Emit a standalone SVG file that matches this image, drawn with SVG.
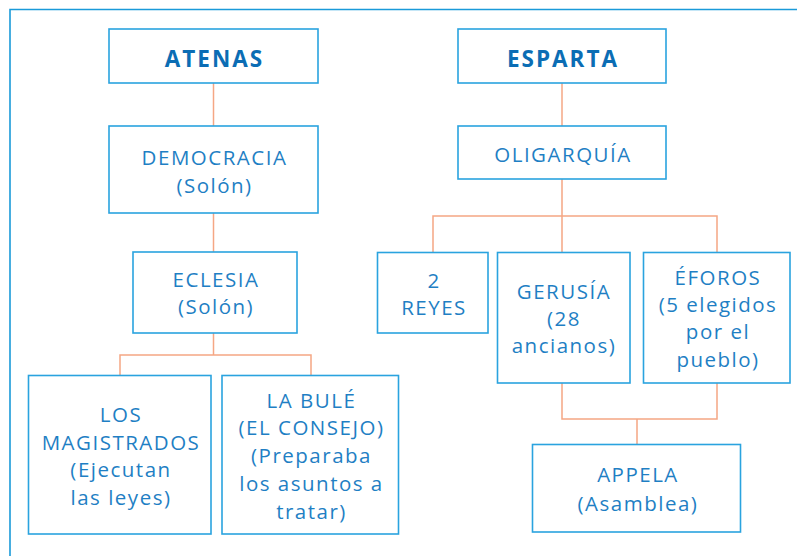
<svg xmlns="http://www.w3.org/2000/svg" width="797" height="556" viewBox="0 0 797 556">
<style>
.box{fill:#fff;stroke:#2aa3df;stroke-width:1.6}
.t{font-family:"Open Sans","DejaVu Sans",sans-serif;font-size:20.5px;fill:#1f7fc4;text-anchor:middle;letter-spacing:1.5px}
.b{font-family:"Open Sans","DejaVu Sans",sans-serif;font-size:22.5px;font-weight:bold;fill:#0b6db4;text-anchor:middle;letter-spacing:2px}
.c{fill:none;stroke:#f5a784;stroke-width:1.5}
</style>
<rect width="797" height="556" fill="#fff"/>
<path d="M10,556 V9.5 H797" fill="none" stroke="#1a9ad9" stroke-width="1.6"/>
<g id="connectors" class="c">
<path d="M213.5,83 V126"/>
<path d="M213.5,213 V252"/>
<path d="M213.5,333 V355 M120,375 V355 H311 V375"/>
<path d="M562,83 V126"/>
<path d="M562,179 V252 M433,252 V216 H717 V252"/>
<path d="M562,383 V419 H717 V383 M637,419 V444"/>
</g>
<g id="atenas"><rect class="box" x="109" y="29" width="209" height="54"/><text class="b" x="214.5" y="67">ATENAS</text></g>
<g id="democracia"><rect class="box" x="109" y="126" width="209" height="87"/><text class="t" x="214.5" y="165">DEMOCRACIA</text><text class="t" x="214.5" y="193">(Solón)</text></g>
<g id="eclesia"><rect class="box" x="133" y="252" width="164" height="81"/><text class="t" x="216" y="287">ECLESIA</text><text class="t" x="216" y="314">(Solón)</text></g>
<g id="magistrados"><rect class="box" x="28.5" y="375.5" width="182.5" height="158.5"/><text class="t" x="121" y="422">LOS</text><text class="t" x="121" y="450">MAGISTRADOS</text><text class="t" x="121" y="477">(Ejecutan</text><text class="t" x="121" y="505">las leyes)</text></g>
<g id="bule"><rect class="box" x="222" y="375.5" width="176.5" height="158.5"/><text class="t" x="311.5" y="408">LA BULÉ</text><text class="t" x="311.5" y="435">(EL CONSEJO)</text><text class="t" x="311.5" y="463">(Preparaba</text><text class="t" x="311.5" y="491">los asuntos a</text><text class="t" x="311.5" y="519">tratar)</text></g>
<g id="esparta"><rect class="box" x="458" y="29" width="208" height="54"/><text class="b" x="563" y="67">ESPARTA</text></g>
<g id="oligarquia"><rect class="box" x="458" y="126" width="208" height="53"/><text class="t" x="563" y="162">OLIGARQUÍA</text></g>
<g id="reyes"><rect class="box" x="377.5" y="252.5" width="110.5" height="80.5"/><text class="t" x="434" y="288">2</text><text class="t" x="434" y="315">REYES</text></g>
<g id="gerusia"><rect class="box" x="497.5" y="252.5" width="132.5" height="130.5"/><text class="t" x="564" y="299">GERUSÍA</text><text class="t" x="564" y="326">(28</text><text class="t" x="564" y="353">ancianos)</text></g>
<g id="eforos"><rect class="box" x="643.5" y="252.5" width="146.5" height="130.5"/><text class="t" x="718" y="285">ÉFOROS</text><text class="t" x="718" y="312">(5 elegidos</text><text class="t" x="718" y="339">por el</text><text class="t" x="718" y="367">pueblo)</text></g>
<g id="appela"><rect class="box" x="532.5" y="444.5" width="208" height="87.5"/><text class="t" x="638" y="482">APPELA</text><text class="t" x="638" y="511">(Asamblea)</text></g>
</svg>
